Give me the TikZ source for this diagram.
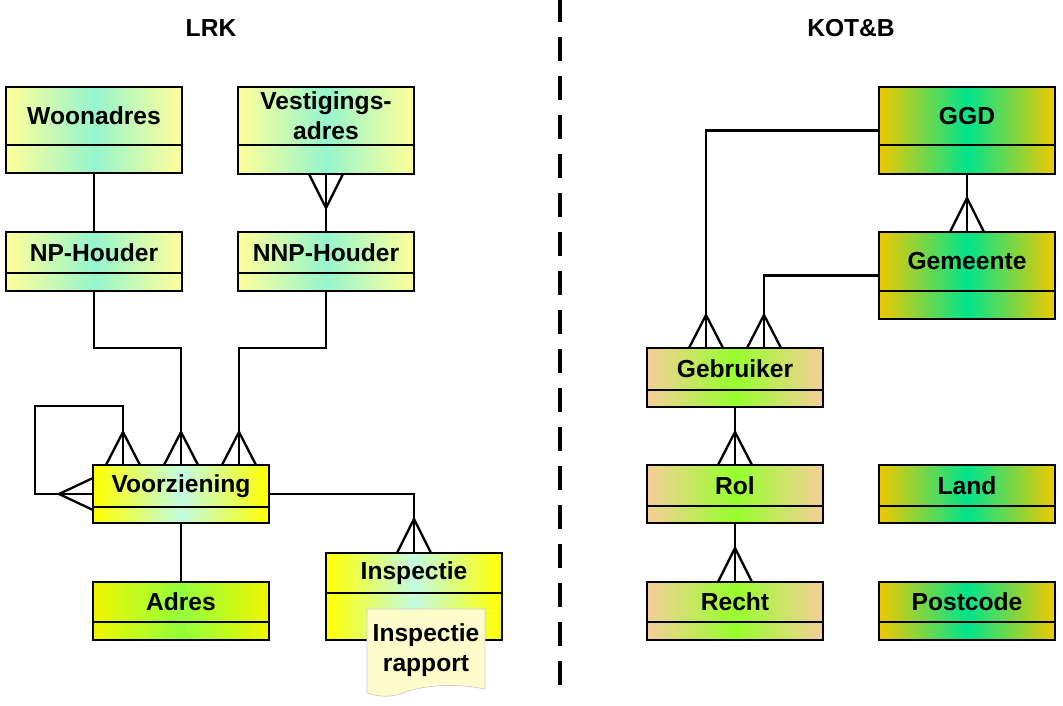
\documentclass[tikz,border=0pt]{standalone}
\usepackage{fontspec}
\setmainfont{Liberation Sans}
\usetikzlibrary{calc, positioning}

% one unit = one pixel of the sketch
\newcommand{\pxu}{0.03cm}

% entity box: name, top-left corner, width, upper part, lower part, colour style, text
\newcommand{\entity}[7]{%
    \node[entity, #6, minimum width=#3*\pxu, minimum height={(#4+#5)*\pxu}, anchor=north west] (#1) at (#2) {};
    \draw[box line] ($(#1.north west)+(0,#4)$) -- ($(#1.north east)+(0,#4)$);
    \node[entity text] (#1-txt) at ($(#1.north)+(0,#4/2)$) {#7};
}

% crow's foot: end point, apex offset, spread offset
\newcommand{\crowfoot}[3]{%
    \draw[link] ($(#1)+(#3)$) -- ($(#1)+(#2)$) -- ($(#1)-(#3)$);
}

\tikzset{
    box line/.style={line width=2.5pt, black},
    entity/.style={draw, box line, inner sep=0pt, outer sep=0pt},
    entity text/.style={font=\bfseries\fontsize{21}{25.5}\selectfont, align=center, inner sep=0pt},
    link/.style={line width=2pt, black, line join=miter},
    lrk pale/.style={left color=yellow!40, right color=yellow!40, middle color={rgb,255:red,150;green,245;blue,205}},
    lrk main/.style={left color={rgb,255:red,255;green,255;blue,0}, right color={rgb,255:red,255;green,255;blue,0}, middle color={rgb,255:red,195;green,252;blue,225}},
    lrk addr/.style={left color={rgb,255:red,240;green,245;blue,0}, right color={rgb,255:red,240;green,245;blue,0}, middle color={rgb,255:red,145;green,255;blue,60}},
    kot user/.style={left color={rgb,255:red,246;green,206;blue,152}, right color={rgb,255:red,246;green,206;blue,152}, middle color={rgb,255:red,150;green,255;blue,45}},
    kot gov/.style={left color={rgb,255:red,240;green,200;blue,0}, right color={rgb,255:red,240;green,200;blue,0}, middle color={rgb,255:red,0;green,228;blue,140}},
}

\begin{document}
\begin{tikzpicture}[x=0.03cm, y=-0.03cm]
    \useasboundingbox (0,0) rectangle (1063,706);

    % headings and divider
    \node[entity text] (lrk) at (211,28) {LRK};
    \node[entity text] (kotb) at (851,28) {KOT\&B};
    \coordinate (div-top) at (560,-2);
    \coordinate (div-bot) at (560,694);
    \draw[line width=2.6pt, dash pattern=on 0.72cm off 0.45cm] (div-top) -- (div-bot);

    % LRK entities
    \entity{woon}{6,87}{176}{58}{28}{lrk pale}{Woonadres}
    \entity{vest}{238,87}{176}{58}{29}{lrk pale}{Vestigings-\\adres}
    \entity{np}{6,232}{176}{41}{18}{lrk pale}{NP-Houder}
    \entity{nnp}{238,232}{176}{41}{18}{lrk pale}{NNP-Houder}
    \entity{vz}{93,465}{176}{42}{16}{lrk main}{Voorziening}
    \entity{adres}{93,582}{176}{40}{18}{lrk addr}{Adres}
    \entity{insp}{326,553}{176}{40}{47}{lrk main}{Inspectie}

    % report sheet on top of Inspectie
    \fill[yellow!20, draw=gray!40, line width=0.6pt] (367,609) -- (485,609) -- (485,689)
        .. controls (450,682) and (420,686) .. (400,694)
        .. controls (388,698) and (377,696) .. (367,693) -- cycle;
    \node[entity text] (rapport) at (426,650) {Inspectie\\rapport};

    % KOT&B entities
    \entity{ggd}{879,87}{176}{58}{29}{kot gov}{GGD}
    \entity{gem}{879,232}{176}{59}{28}{kot gov}{Gemeente}
    \entity{geb}{647,348}{176}{42}{17}{kot user}{Gebruiker}
    \entity{rol}{647,465}{176}{41}{17}{kot user}{Rol}
    \entity{recht}{647,582}{176}{40}{18}{kot user}{Recht}
    \entity{land}{879,465}{176}{41}{17}{kot gov}{Land}
    \entity{post}{879,582}{176}{40}{18}{kot gov}{Postcode}

    % attachment points
    \coordinate (vz-l) at ($(vz.north)+(-58,0)$);
    \coordinate (vz-r) at ($(vz.north)+(58,0)$);
    \coordinate (geb-l) at ($(geb.north)+(-29,0)$);
    \coordinate (geb-r) at ($(geb.north)+(29,0)$);

    % LRK relations
    \draw[link] (woon.south) -- (np.north);
    \draw[link] (vest.south) -- (nnp.north);
    \crowfoot{vest.south}{0,34}{17,0}
    \draw[link] (np.south) -- ++(0,57) -| (vz.north);
    \crowfoot{vz.north}{0,-33}{17,0}
    \draw[link] (nnp.south) -- ++(0,57) -| (vz-r);
    \crowfoot{vz-r}{0,-33}{17,0}
    \draw[link] (vz-l) -- ++(0,-59) -- ++(-88,0) |- (vz.west);
    \crowfoot{vz-l}{0,-33}{17,0}
    \crowfoot{vz.west}{-34,0}{0,16}
    \draw[link] (vz.east) -| (insp.north);
    \crowfoot{insp.north}{0,-34}{17,0}
    \draw[link] (vz.south) -- (adres.north);

    % KOT&B relations
    \draw[link] (ggd.south) -- (gem.north);
    \crowfoot{gem.north}{0,-34}{17,0}
    \draw[link] (ggd.west) -| (geb-l);
    \crowfoot{geb-l}{0,-33}{17,0}
    \draw[link] (gem.west) -| (geb-r);
    \crowfoot{geb-r}{0,-33}{17,0}
    \draw[link] (geb.south) -- (rol.north);
    \crowfoot{rol.north}{0,-33}{17,0}
    \draw[link] (rol.south) -- (recht.north);
    \crowfoot{recht.north}{0,-34}{17,0}
\end{tikzpicture}
\end{document}
